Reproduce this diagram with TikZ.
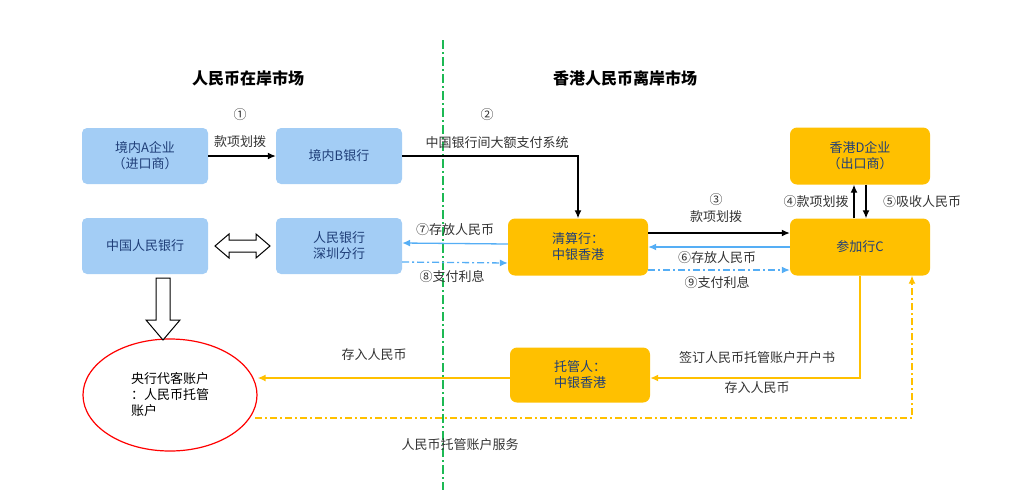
\documentclass[tikz,border=0pt]{standalone}
\usepackage{fontspec}
\setmainfont{Noto Sans CJK SC}
\usetikzlibrary{arrows.meta,shapes.geometric}
\definecolor{lb}{HTML}{A3CDF5}
\definecolor{org}{HTML}{FFC000}
\definecolor{tb}{HTML}{1F3E78}
\definecolor{ab}{HTML}{55AEF5}
\definecolor{gl}{HTML}{1DB954}
\begin{document}
\begin{tikzpicture}[x=1pt,y=-1pt,font=\fontsize{13}{16}\selectfont,
 bb/.style={fill=lb,rounded corners=5pt,align=center,text=tb,minimum width=126pt,minimum height=56pt},
 ob/.style={fill=org,rounded corners=7pt,align=center,text=tb,minimum width=140pt,minimum height=57pt},
 ar/.style={-{Latex[length=8pt,width=7pt]},line width=1.3pt},
 dd/.style={dash pattern=on 7pt off 3pt on 2pt off 3pt},
 lbl/.style={text=black!80}]
\useasboundingbox (0,0) rectangle (1024,496);
\draw[gl,dash pattern=on 9pt off 3pt on 2pt off 3pt,line width=1.5pt] (443,40) -- (443,490);
\node[font=\fontsize{16}{19}\selectfont\bfseries] (t1) at (248,78) {人民币在岸市场};
\node[font=\fontsize{16}{19}\selectfont\bfseries] (t2) at (625,78) {香港人民币离岸市场};
\node[bb] (A) at (145,156) {境内A企业\\（进口商）};
\node[bb] (B) at (339,156) {境内B银行};
\node[bb] (P) at (145,246) {中国人民银行};
\node[bb] (S) at (339,246) {人民银行\\深圳分行};
\node[ob] (Q) at (578,247) {清算行：\\中银香港};
\node[ob] (C) at (860,247) {参加行C};
\node[ob] (D) at (860,156) {香港D企业\\（出口商）};
\node[ob,minimum height=55pt] (T) at (580,375) {托管人：\\中银香港};
\node[draw=red,line width=1.2pt,ellipse,minimum width=174pt,minimum height=112pt,align=left] (E) at (170,395) {央行代客账户\\：人民币托管\\账户};
% 1
\draw[ar] (A.east) -- (B.west);
\node[lbl] (n1) at (240,115) {①};
\node[lbl] (l1) at (240,142) {款项划拨};
% 2
\coordinate (k2) at (578,156);
\draw[ar] (B.east) -- (k2) -- (Q.north);
\node[lbl] (n2) at (487,115) {②};
\node[lbl] (l2) at (497,143) {中国银行间大额支付系统};
% hollow arrows
\draw[line width=1pt,fill=white] (215,246) -- (229,234) -- (229,240) -- (256,240) -- (256,234) -- (270,246) -- (256,258) -- (256,252) -- (229,252) -- (229,258) -- cycle;
\draw[line width=1pt,fill=white] (156,278) -- (170,278) -- (170,320) -- (180,320) -- (163,340) -- (146,320) -- (156,320) -- cycle;
% 7,8
\draw[ar,ab] ([yshift=3pt]Q.west) -- ([yshift=3pt]S.east);
\node[lbl] (l7) at (455,230) {⑦存放人民币};
\draw[ar,ab,dd] ([yshift=-16pt]S.east) -- ([yshift=-16pt]Q.west);
\node[lbl] (l8) at (452,277) {⑧支付利息};
% 3,6,9
\draw[ar] ([yshift=14pt]Q.east) -- ([yshift=14pt]C.west);
\node[lbl] (n3) at (716,200) {③};
\node[lbl] (l3) at (716,217) {款项划拨};
\draw[ar,ab] (C.west) -- (Q.east);
\node[lbl] (l6) at (717,258) {⑥存放人民币};
\draw[ar,ab,dd] ([yshift=-23pt]Q.east) -- ([yshift=-23pt]C.west);
\node[lbl] (l9) at (717,283) {⑨支付利息};
% 4,5
\draw[ar] ([xshift=-6pt]C.north) -- ([xshift=-6pt]D.south);
\draw[ar] ([xshift=6pt]D.south) -- ([xshift=6pt]C.north);
\node[lbl] (l4) at (816,202) {④款项划拨};
\node[lbl] (l5) at (922,202) {⑤吸收人民币};
% orange flows
\coordinate (c1) at (860,378);
\draw[ar,org,line width=1.5pt] (C.south) -- (c1) -- (T.east |- c1);
\node[lbl] (l10) at (757,358) {签订人民币托管账户开户书};
\node[lbl] (l11) at (757,388) {存入人民币};
\draw[ar,org,line width=1.5pt] (T.west |- c1) -- (E.east |- c1);
\node[lbl] (l12) at (374,355) {存入人民币};
\coordinate (c2) at (912,418);
\draw[ar,org,line width=1.2pt,dd] (255,418) -- (c2) -- (c2 |- C.south);
\node[lbl] (l13) at (460,445) {人民币托管账户服务};
\end{tikzpicture}
\end{document}
